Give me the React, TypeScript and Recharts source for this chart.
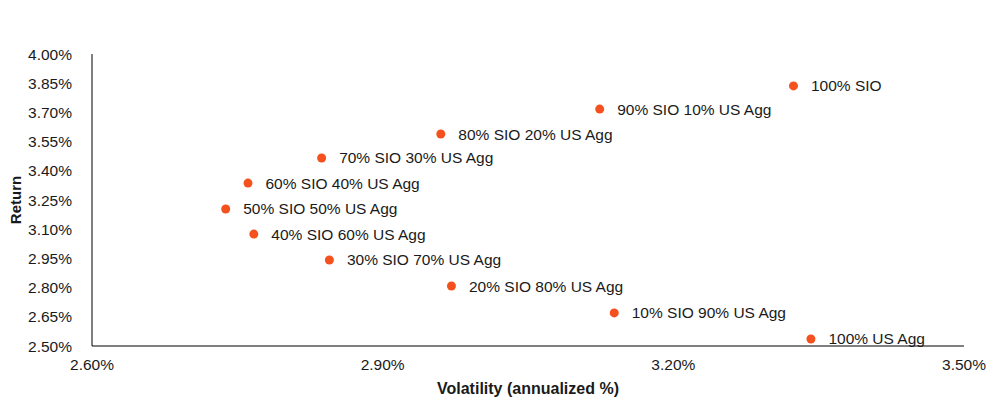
import { ScatterChart, Scatter, XAxis, YAxis, LabelList } from "recharts";

const names = [
  "100% SIO",
  "90% SIO 10% US Agg",
  "80% SIO 20% US Agg",
  "70% SIO 30% US Agg",
  "60% SIO 40% US Agg",
  "50% SIO 50% US Agg",
  "40% SIO 60% US Agg",
  "30% SIO 70% US Agg",
  "20% SIO 80% US Agg",
  "10% SIO 90% US Agg",
  "100% US Agg",
];
const volatility = [3.324, 3.124, 2.96, 2.837, 2.761, 2.738, 2.767, 2.845, 2.971, 3.139, 3.342];
const returns = [3.836, 3.717, 3.589, 3.466, 3.337, 3.204, 3.075, 2.942, 2.808, 2.67, 2.536];
const xTicks = [2.6, 2.9, 3.2, 3.5];
const yTicks = [2.5, 2.65, 2.8, 2.95, 3.1, 3.25, 3.4, 3.55, 3.7, 3.85, 4.0];

const data = names.map((name, i) => ({ name, vol: volatility[i], ret: returns[i] }));

const FONT = "'Liberation Sans', Arial, sans-serif";
const DOT = "#F5511E";
const TEXT = "#1a1a1a";

export default function App() {
  return (
    <div style={{ position: "absolute", left: 0, top: 0, fontFamily: FONT }}>
      <ScatterChart width={1005} height={399} margin={{ top: 54, right: 41, bottom: 0, left: 0 }}>
        <XAxis
          type="number"
          dataKey="vol"
          domain={[2.6, 3.5]}
          ticks={xTicks}
          tickFormatter={(v: number) => `${v.toFixed(2)}%`}
          tick={{ fill: TEXT, fontSize: 15.5, fontFamily: FONT }}
          tickLine={false}
          tickMargin={7}
          axisLine={{ stroke: "#000", strokeWidth: 1 }}
          height={53}
          label={{
            value: "Volatility (annualized %)",
            position: "insideBottom",
            offset: 5,
            fill: TEXT,
            fontSize: 16,
            fontWeight: 700,
            fontFamily: FONT,
          }}
        />
        <YAxis
          type="number"
          dataKey="ret"
          domain={[2.5, 4.0]}
          ticks={yTicks}
          tickFormatter={(v: number) => `${v.toFixed(2)}%`}
          tick={{ fill: TEXT, fontSize: 15.5, fontFamily: FONT }}
          tickLine={false}
          tickMargin={14}
          axisLine={{ stroke: "#000", strokeWidth: 1 }}
          width={92}
          label={{
            value: "Return",
            angle: -90,
            position: "insideLeft",
            offset: 16,
            fill: TEXT,
            fontSize: 15,
            fontWeight: 700,
            fontFamily: FONT,
            style: { textAnchor: "middle" },
          }}
        />
        <Scatter data={data} fill={DOT} isAnimationActive={false} shape={(p: any) => <circle cx={p.cx} cy={p.cy} r={4.5} fill={DOT} />}>
          <LabelList
            dataKey="name"
            position="right"
            offset={13}
            fill={TEXT}
            fontSize={15.5}
            fontFamily={FONT}
          />
        </Scatter>
      </ScatterChart>
    </div>
  );
}
